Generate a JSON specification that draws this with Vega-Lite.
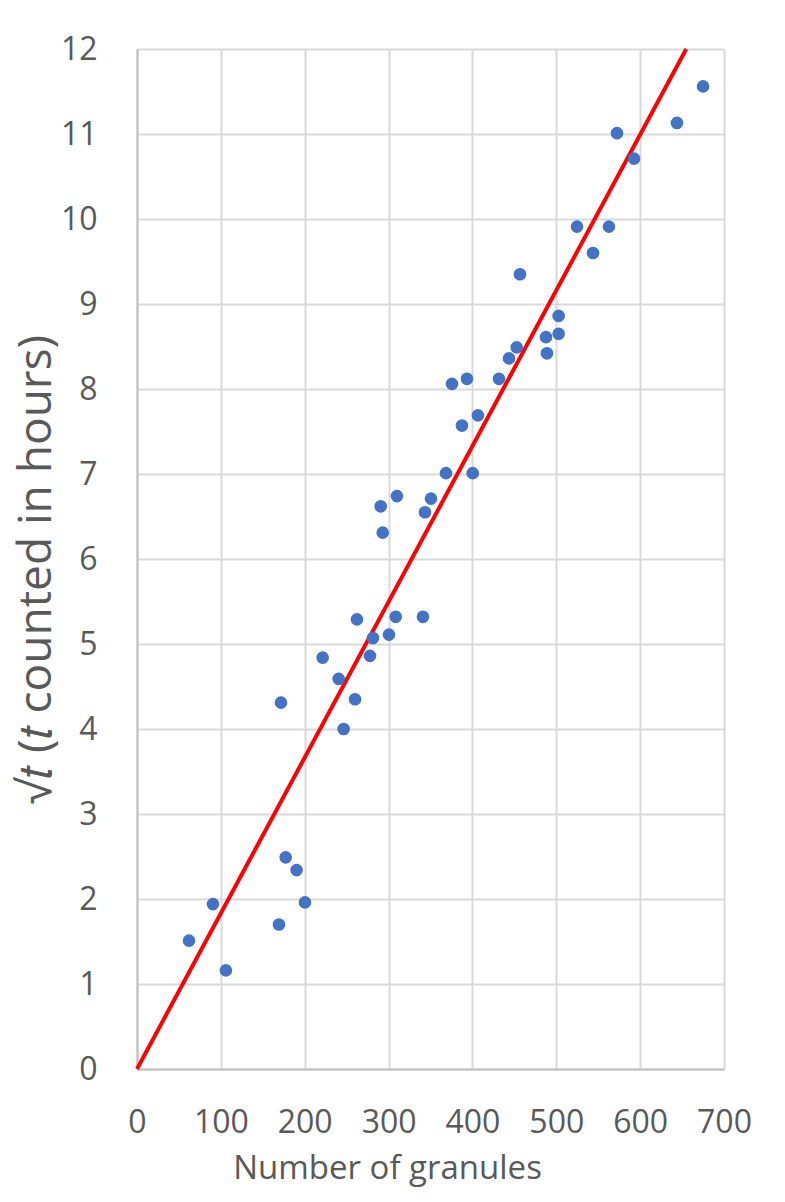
{
  "$schema": "https://vega.github.io/schema/vega-lite/v6.json",
  "width": 587,
  "height": 1020,
  "autosize": {"type": "none"},
  "padding": {"left": 137, "top": 49, "right": 61, "bottom": 133},
  "background": "white",
  "config": {
    "view": {"stroke": null},
    "font": "Open Sans, sans-serif",
    "axis": {
      "gridColor": "#D9D9D9",
      "gridWidth": 2,
      "domainColor": "#BFBFBF",
      "domainWidth": 2,
      "ticks": false,
      "labelColor": "#595959",
      "titleColor": "#595959",
      "labelFontSize": 32,
      "titleFontWeight": "normal",
      "labelOverlap": false,
      "labelFlush": false,
      "labelFont": "Open Sans, sans-serif",
      "titleFont": "Open Sans, sans-serif"
    }
  },
  "datasets": {
    "pts": [
      {"n": 62, "s": 1.51}, {"n": 90.6, "s": 1.94}, {"n": 106, "s": 1.16}, {"n": 169.3, "s": 1.7},
      {"n": 171.7, "s": 4.31}, {"n": 177.3, "s": 2.49}, {"n": 190.3, "s": 2.34}, {"n": 200.3, "s": 1.96},
      {"n": 221.4, "s": 4.84}, {"n": 240.5, "s": 4.59}, {"n": 246.4, "s": 4.0}, {"n": 260, "s": 4.35},
      {"n": 262.3, "s": 5.29}, {"n": 277.8, "s": 4.86}, {"n": 281.4, "s": 5.07}, {"n": 300.5, "s": 5.11},
      {"n": 308.5, "s": 5.32}, {"n": 341, "s": 5.32},
      {"n": 290.6, "s": 6.62}, {"n": 293, "s": 6.31}, {"n": 310, "s": 6.74}, {"n": 343.4, "s": 6.55},
      {"n": 350.6, "s": 6.71}, {"n": 368.5, "s": 7.01}, {"n": 400.3, "s": 7.01}, {"n": 387.5, "s": 7.57},
      {"n": 406.6, "s": 7.69}, {"n": 375.6, "s": 8.06}, {"n": 393.5, "s": 8.12}, {"n": 431.7, "s": 8.12},
      {"n": 443.6, "s": 8.36}, {"n": 452.8, "s": 8.49}, {"n": 488.9, "s": 8.42}, {"n": 487.7, "s": 8.61},
      {"n": 502.8, "s": 8.65}, {"n": 502.8, "s": 8.86}, {"n": 456.7, "s": 9.35}, {"n": 543.8, "s": 9.6},
      {"n": 524.7, "s": 9.91}, {"n": 562.8, "s": 9.91}, {"n": 592.7, "s": 10.71}, {"n": 572.4, "s": 11.01},
      {"n": 643.9, "s": 11.13}, {"n": 675, "s": 11.56}
    ],
    "fit": [{"n": 0, "s": 0}, {"n": 655, "s": 12}]
  },
  "layer": [
    {
      "data": {"name": "fit"},
      "mark": {"type": "line", "color": "#FF0000", "strokeWidth": 4},
      "encoding": {
        "x": {"field": "n", "type": "quantitative",
              "scale": {"domain": [0, 700], "nice": false},
              "axis": {"values": [0, 100, 200, 300, 400, 500, 600, 700], "format": "d", "labelPadding": 38, "title": "Number of granules", "titleFontSize": 33, "titlePadding": 14, "titleX": 250, "titleAlign": "center"}},
        "y": {"field": "s", "type": "quantitative",
              "scale": {"domain": [0, 12], "nice": false},
              "axis": {"values": [0, 1, 2, 3, 4, 5, 6, 7, 8, 9, 10, 11, 12], "format": "d", "labelPadding": 40, "title": "√𝑡 (𝑡 counted in hours)", "titleFontSize": 46, "titlePadding": 0, "titleY": 520, "titleAlign": "center"}}
      }
    },
    {
      "data": {"name": "pts"},
      "mark": {"type": "circle", "color": "#4472C4", "opacity": 1, "size": 160},
      "encoding": {
        "x": {"field": "n", "type": "quantitative"},
        "y": {"field": "s", "type": "quantitative"}
      }
    }
  ]
}
